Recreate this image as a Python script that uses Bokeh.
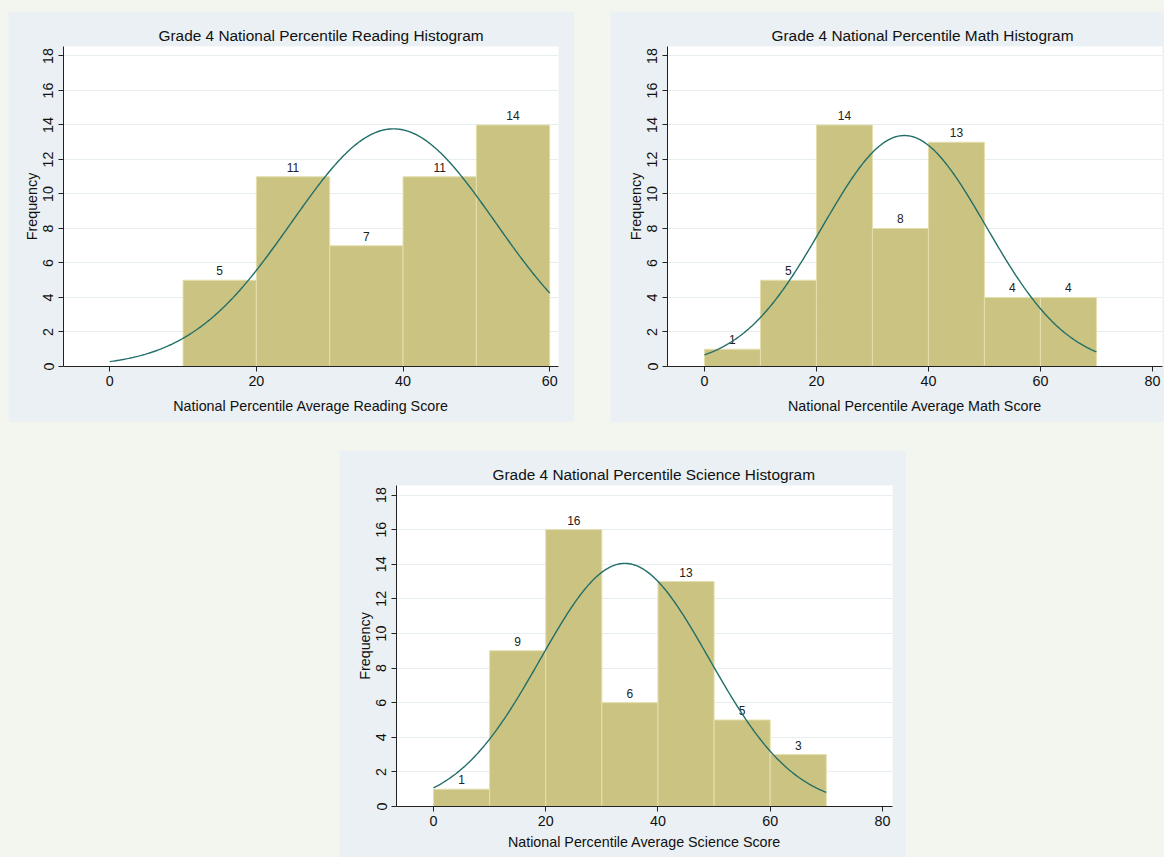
import numpy as np
from math import pi
from bokeh.plotting import figure
from bokeh.layouts import column, row, Spacer
from bokeh.models import ColumnDataSource, Range1d, FixedTicker, Title
from bokeh.embed import file_html
from bokeh.resources import INLINE

# ---- data ----
bin_width = 10
reading_edges = [10, 20, 30, 40, 50]
reading_counts = [5, 11, 7, 11, 14]
reading_mean, reading_sd = 38.7, 13.9

math_edges = [0, 10, 20, 30, 40, 50, 60]
math_counts = [1, 5, 14, 8, 13, 4, 4]
math_mean, math_sd = 35.7, 14.6

science_edges = [0, 10, 20, 30, 40, 50, 60]
science_counts = [1, 9, 16, 6, 13, 5, 3]
science_mean, science_sd = 34.1, 15.05

y_ticks = [0, 2, 4, 6, 8, 10, 12, 14, 16, 18]

PANEL = "#eaf0f3"
PAGE = "#f3f5ef"
BAR = "#cbc382"
BAR_EDGE = "#e4dfae"
CURVE = "#226e68"
FONT = "Liberation Sans"


def panel(title, xlabel, edges, counts, mean, sd, xr, xticks, width, height,
          left, top, right, bottom, title_offset, xlabel_standoff):
    p = figure(width=width, height=height, output_backend="svg", toolbar_location=None,
               x_range=Range1d(*xr), y_range=Range1d(0, 18.55),
               min_border_left=left, min_border_right=right,
               min_border_top=top, min_border_bottom=bottom,
               background_fill_color="white", border_fill_color=PANEL,
               outline_line_color=None)
    p.title = Title(text=title, align="left", offset=title_offset,
                    text_font=FONT, text_font_size="15.4px", text_font_style="normal",
                    text_color="#111111", standoff=6)
    lefts = np.array(edges, dtype=float)
    src = ColumnDataSource(dict(left=lefts, right=lefts + bin_width, top=counts,
                                xc=lefts + bin_width / 2,
                                lab=[str(c) for c in counts]))
    p.quad(left="left", right="right", bottom=0, top="top", source=src,
           fill_color=BAR, line_color=BAR_EDGE, line_width=1)
    p.text(x="xc", y="top", text="lab", source=src, text_align="center",
           text_baseline="bottom", y_offset=-5, text_font_size="12px",
           text_font={"value": FONT}, text_color="#222222")
    n = sum(counts)
    xs = np.linspace(0, edges[-1] + bin_width, 300)
    ys = n * bin_width / (sd * np.sqrt(2 * pi)) * np.exp(-(xs - mean) ** 2 / (2 * sd ** 2))
    p.line(xs, ys, line_color=CURVE, line_width=1.4)

    p.xgrid.visible = False
    p.ygrid.grid_line_color = "#e6eef1"
    p.ygrid.grid_line_width = 1.2
    p.ygrid.ticker = FixedTicker(ticks=y_ticks)

    p.yaxis.ticker = FixedTicker(ticks=y_ticks)
    p.xaxis.ticker = FixedTicker(ticks=xticks)
    for ax in (p.xaxis, p.yaxis):
        ax.axis_line_color = "#222222"
        ax.major_tick_line_color = "#222222"
        ax.major_tick_out = 5
        ax.major_tick_in = 0
        ax.minor_tick_line_color = None
        ax.major_label_text_font = FONT
        ax.major_label_text_font_size = "14.3px"
        ax.major_label_text_color = "#111111"
        ax.axis_label_text_font = FONT
        ax.axis_label_text_font_size = "14.3px"
        ax.axis_label_text_font_style = "normal"
        ax.axis_label_text_color = "#111111"
    p.yaxis.major_label_orientation = "vertical"
    p.yaxis.axis_label = "Frequency"
    p.yaxis.axis_label_standoff = 1
    p.yaxis.major_label_standoff = 5
    p.xaxis.axis_label = xlabel
    p.xaxis.axis_label_standoff = xlabel_standoff
    p.xaxis.major_label_standoff = 4
    return p


p1 = panel("Grade 4 National Percentile Reading Histogram",
           "National Percentile Average Reading Score",
           reading_edges, reading_counts, reading_mean, reading_sd,
           (-6.3, 61.2), [0, 20, 40, 60], 566, 411, 55, 35, 16, 56, 95, 9)
p2 = panel("Grade 4 National Percentile Math Histogram",
           "National Percentile Average Math Score",
           math_edges, math_counts, math_mean, math_sd,
           (-6.6, 81.8), [0, 20, 40, 60, 80], 554, 411, 57, 35, 2, 56, 104, 9)
p3 = panel("Grade 4 National Percentile Science Histogram",
           "National Percentile Average Science Score",
           science_edges, science_counts, science_mean, science_sd,
           (-6.6, 81.8), [0, 20, 40, 60, 80], 567, 407, 57, 35, 14, 51, 96, 5)

layout = column(Spacer(height=3),
                row(p1, Spacer(width=36), p2),
                Spacer(height=28),
                row(Spacer(width=331), p3))

html = file_html(layout, INLINE)
html = html.replace("</head>",
                    "<style>html{background:%s;} body{background:%s; margin:8px 0 0 8px !important;}</style></head>" % (PAGE, PAGE), 1)
open("out.html", "w").write(html)
